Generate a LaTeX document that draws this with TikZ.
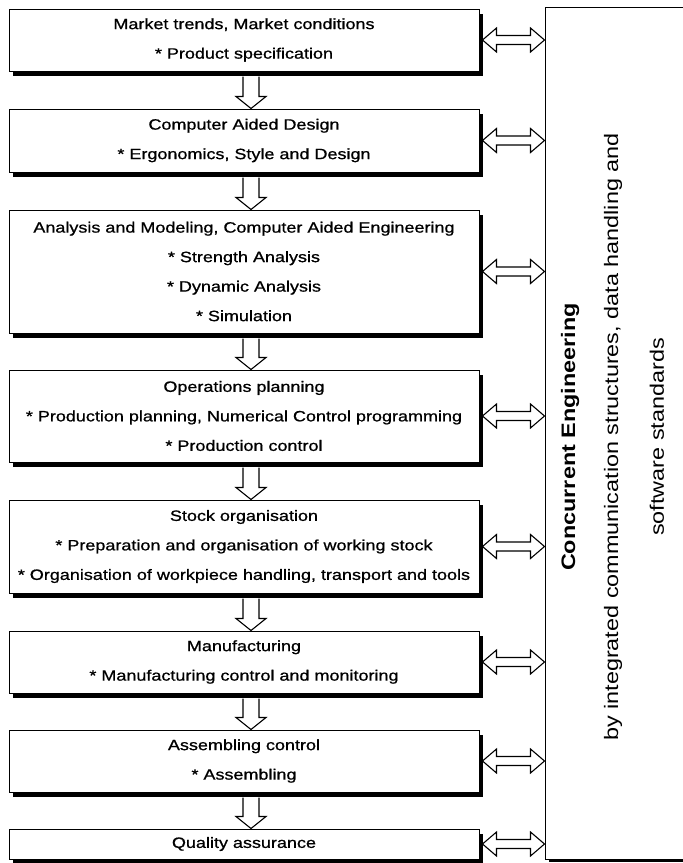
\documentclass[tikz,border=0pt]{standalone}
\usepackage{fontspec}
\setmainfont{Liberation Sans}[FakeStretch=1.2]
\newfontfamily\boxfont{Liberation Sans}[FakeStretch=1.2, FakeBold=0.8]
\usetikzlibrary{calc,shadows}
\begin{document}
\begin{tikzpicture}[x=1pt,y=-1pt,
  box/.style={draw, line width=1pt, fill=white, minimum width=470pt, inner sep=0pt,
    align=center, font=\boxfont\fontsize{15}{29.5}\selectfont,
    drop shadow={shadow xshift=4pt, shadow yshift=-5pt, fill=black, opacity=1}},
  bigbox/.style={draw, line width=1pt, fill=white, inner sep=0pt,
    drop shadow={shadow xshift=4pt, shadow yshift=-3pt, fill=black, opacity=1}},
  arr/.style={draw, line width=1.1pt, fill=white, line join=miter},
  vtext/.style={rotate=90, inner sep=0pt, font=\fontsize{19.5}{24}\selectfont}]
\useasboundingbox (0,0) rectangle (683,863);
\clip (0,0) rectangle (683,863);

% boxes
\node[box, minimum height=62pt] (b1) at (244,40) {Market trends, Market conditions\\* Product specification};
\node[box, minimum height=63pt] (b2) at (244,140.5) {Computer Aided Design\\* Ergonomics, Style and Design};
\node[box, minimum height=123pt] (b3) at (244,271.5) {Analysis and Modeling, Computer Aided Engineering\\* Strength Analysis\\* Dynamic Analysis\\* Simulation};
\node[box, minimum height=92pt] (b4) at (244,416) {Operations planning\\* Production planning, Numerical Control programming\\* Production control};
\node[box, minimum height=93pt] (b5) at (244,546.5) {Stock organisation\\* Preparation and organisation of working stock\\* Organisation of workpiece handling, transport and tools};
\node[box, minimum height=62pt] (b6) at (244,662) {Manufacturing\\* Manufacturing control and monitoring};
\node[box, minimum height=62pt] (b7) at (244,761) {Assembling control\\* Assembling};
\node[box, minimum height=30pt] (b8) at (244,844) {Quality assurance};

% big box
\node[bigbox, minimum width=160pt, minimum height=852pt] (ce) at (625,433) {};
\node[vtext, font=\fontsize{19.5}{24}\selectfont\bfseries] (t1) at (570,437) {Concurrent Engineering};
\node[vtext] (t2) at (613,437) {by integrated communication structures, data handling and};
\node[vtext] (t3) at (657,437) {software standards};

% vertical block arrows
\foreach \a/\b in {b1/b2,b2/b3,b3/b4,b4/b5,b5/b6,b6/b7,b7/b8}
  \draw[arr] let \p1=($(\a.south)+(7pt,-5pt)$), \p2=($(\b.north)+(7pt,0pt)$) in
    (\x1-8pt,\y1) -- (\x1-8pt,\y2+12pt) -- (\x1-15pt,\y2+12pt) -- (\x1,\y2)
    -- (\x1+15pt,\y2+12pt) -- (\x1+8pt,\y2+12pt) -- (\x1+8pt,\y1);

% horizontal double arrows
\foreach \a in {b1,b2,b3,b4,b5,b6,b7,b8}
  \draw[arr] let \p1=($(\a.east)+(3pt,0pt)$), \p2=(ce.west) in
    (\x1,\y1) -- (\x1+14pt,\y1+12pt) -- (\x1+14pt,\y1+4.5pt) -- (\x2-14pt,\y1+4.5pt)
    -- (\x2-14pt,\y1+12pt) -- (\x2,\y1) -- (\x2-14pt,\y1-12pt) -- (\x2-14pt,\y1-4.5pt)
    -- (\x1+14pt,\y1-4.5pt) -- (\x1+14pt,\y1-12pt) -- cycle;
\end{tikzpicture}
\end{document}
